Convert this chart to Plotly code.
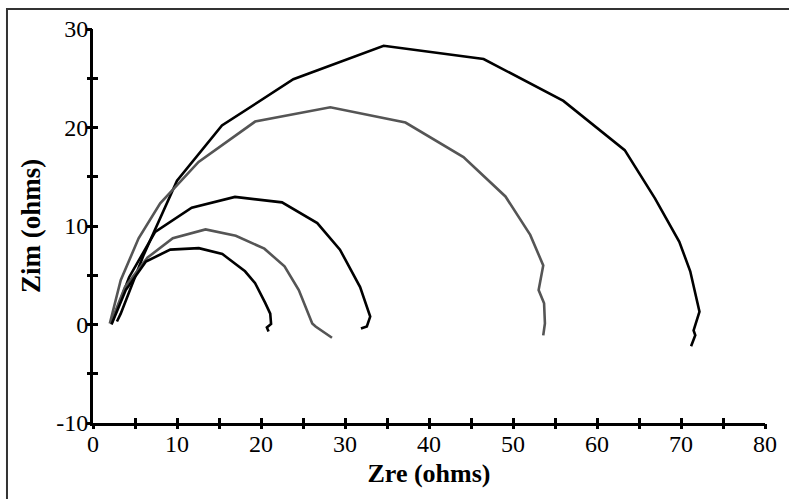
import plotly.graph_objects as go

# Nyquist impedance spectra (Zre vs Zim, ohms), five measurements
c1_zre = [2.85, 3.3, 6.0, 10.0, 15.35, 23.85, 34.6, 46.5, 56.0, 63.3, 66.9, 69.8, 71.1, 72.2, 71.5, 71.7, 71.2]
c1_zim = [0.3, 1.1, 7.0, 14.6, 20.2, 24.9, 28.3, 26.95, 22.7, 17.7, 12.8, 8.4, 5.4, 1.3, -0.6, -1.1, -2.2]

c2_zre = [2.0, 3.3, 5.43, 8.0, 12.57, 19.3, 28.25, 37.2, 44.1, 49.1, 52.05, 53.6, 53.05, 53.7, 53.8, 53.6]
c2_zim = [0.1, 4.5, 8.75, 12.3, 16.5, 20.6, 22.05, 20.5, 17.0, 13.0, 9.1, 6.0, 3.5, 2.15, 0.1, -1.1]

c3_zre = [2.2, 4.3, 7.4, 11.75, 16.9, 22.5, 26.7, 29.4, 31.8, 33.0, 32.6, 31.9]
c3_zim = [0.1, 4.8, 9.4, 11.85, 12.95, 12.4, 10.3, 7.6, 3.8, 0.8, -0.2, -0.4]

c4_zre = [2.1, 3.8, 6.5, 9.5, 13.4, 17.0, 20.4, 22.8, 24.5, 26.1, 26.5, 28.45]
c4_zim = [0.1, 3.8, 6.8, 8.75, 9.65, 9.0, 7.7, 5.9, 3.5, 0.1, -0.2, -1.35]

c5_zre = [2.2, 3.9, 6.3, 9.2, 12.6, 15.4, 18.1, 19.3, 20.5, 21.1, 21.2, 20.7, 20.9]
c5_zim = [0.0, 3.5, 6.4, 7.6, 7.75, 7.15, 5.4, 4.2, 2.2, 1.1, 0.05, -0.3, -0.7]

x_ticks = list(range(0, 81, 5))
x_text = [str(v) if v % 10 == 0 else "" for v in x_ticks]
y_ticks = list(range(-10, 31, 5))
y_text = [str(v) if v % 10 == 0 else "" for v in y_ticks]

BLACK = "#000000"
GRAY = "#555555"
FONT = "Liberation Serif"

series = [
    (c1_zre, c1_zim, BLACK),
    (c2_zre, c2_zim, GRAY),
    (c3_zre, c3_zim, BLACK),
    (c4_zre, c4_zim, GRAY),
    (c5_zre, c5_zim, BLACK),
]

fig = go.Figure()
for xs, ys, col in series:
    fig.add_trace(go.Scatter(
        x=xs, y=ys, mode="lines",
        line=dict(color=col, width=2.6),
        showlegend=False, hoverinfo="skip",
    ))

# empty traces so the overlay axes (the two halves of the crossing ticks) are drawn
fig.add_trace(go.Scatter(x=[], y=[], xaxis="x2", yaxis="y2", showlegend=False))
fig.add_trace(go.Scatter(x=[], y=[], xaxis="x3", yaxis="y3", showlegend=False))

tick_common = dict(tickcolor=BLACK, tickwidth=2.5, ticklen=5)


def tick_axis(base, anchor, side, rng, vals, direction):
    return dict(
        overlaying=base, matches=base, anchor=anchor, side=side,
        range=rng, showgrid=False, zeroline=False, showline=False,
        tickmode="array", tickvals=vals, showticklabels=False,
        ticks=direction, **tick_common,
    )


fig.update_layout(
    width=789, height=499,
    margin=dict(l=93, r=24, t=29, b=76),
    paper_bgcolor="white", plot_bgcolor="white",
    font=dict(family=FONT, color=BLACK, size=24),
    xaxis=dict(
        range=[0, 80], showgrid=False, zeroline=False,
        showline=True, linecolor=BLACK, linewidth=3,
        tickmode="array", tickvals=x_ticks, ticktext=x_text,
        ticks="",
        tickfont=dict(family=FONT, size=24),
        ticklabelstandoff=-3,
        title=dict(text="<b>Zre (ohms)</b>", font=dict(family=FONT, size=26), standoff=9),
    ),
    yaxis=dict(
        range=[-10, 30], showgrid=False, zeroline=False,
        showline=True, linecolor=BLACK, linewidth=3,
        tickmode="array", tickvals=y_ticks, ticktext=y_text,
        ticks="",
        tickfont=dict(family=FONT, size=24),
        ticklabelstandoff=-3,
        title=dict(text="<b>Zim (ohms)</b>", font=dict(family=FONT, size=27), standoff=8),
    ),
    xaxis2=tick_axis("x", "y2", "bottom", [0, 80], x_ticks, "inside"),
    yaxis2=tick_axis("y", "x2", "left", [-10, 30], y_ticks, "inside"),
    xaxis3=tick_axis("x", "y3", "bottom", [0, 80], x_ticks, "outside"),
    yaxis3=tick_axis("y", "x3", "left", [-10, 30], y_ticks, "outside"),
    shapes=[
        dict(type="path", xref="paper", yref="paper",
             path="M -0.128,-0.3 L -0.128,1.0508 L 1.1,1.0508",
             line=dict(color="#333333", width=2)),
    ],
)

fig.write_html("out.html")
